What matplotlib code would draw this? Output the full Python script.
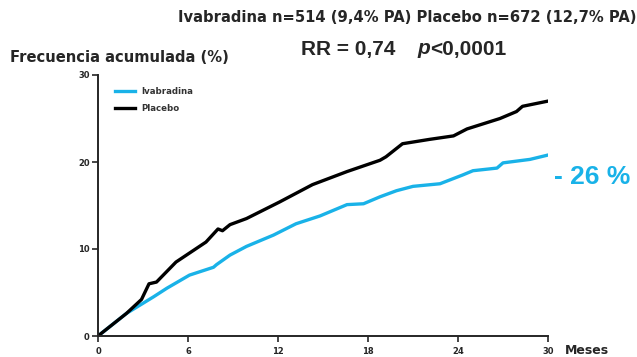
import numpy as np
import matplotlib.pyplot as plt

plt.rcParams['font.family'] = ['DejaVu Sans']

# curves (months, cumulative %)
meses_placebo = [0, 1.9, 2.9, 3.4, 3.9, 5.2, 7.2, 8.0, 8.3, 8.8, 9.9, 12.1, 14.3,
                 16.6, 18.8, 19.2, 20.3, 22.1, 23.7, 24.6, 26.8, 27.9, 28.3, 30]
placebo = [0, 2.6, 4.2, 6.0, 6.2, 8.5, 10.8, 12.3, 12.1, 12.8, 13.5, 15.4, 17.4,
           18.9, 20.2, 20.6, 22.1, 22.6, 23.0, 23.8, 25.0, 25.8, 26.4, 27.0]
meses_ivab = [0, 1.9, 3.7, 4.6, 6.1, 7.7, 7.9, 8.8, 9.9, 11.7, 13.2, 14.8, 16.6,
              17.7, 18.8, 19.9, 21.0, 22.8, 24.3, 25.0, 26.6, 27.0, 28.8, 30]
ivabradina = [0, 2.6, 4.5, 5.5, 7.0, 7.9, 8.2, 9.3, 10.3, 11.6, 12.9, 13.8, 15.1,
              15.2, 16.0, 16.7, 17.2, 17.5, 18.5, 19.0, 19.3, 19.9, 20.3, 20.8]
xticks = [0, 6, 12, 18, 24, 30]
yticks = [0, 10, 20, 30]

cyan = '#19b2e8'
dark = '#262626'
W, H = 637, 357

fig = plt.figure(figsize=(W / 100, H / 100), dpi=100)
ax = fig.add_axes([98 / W, 1 - 336 / H, 450 / W, 261 / H])

ax.plot(meses_ivab, ivabradina, color=cyan, lw=2.4, label='Ivabradina')
ax.plot(meses_placebo, placebo, color='black', lw=2.4, label='Placebo')

ax.set_xlim(0, 30)
ax.set_ylim(0, 30)
ax.set_xticks(xticks)
ax.set_yticks(yticks)
ax.tick_params(labelsize=6, length=4, width=1.2, colors=dark)
ax.tick_params(axis='x', pad=4)
ax.tick_params(axis='y', pad=2)
for lab in ax.get_xticklabels() + ax.get_yticklabels():
    lab.set_fontweight('bold')
ax.spines['top'].set_visible(False)
ax.spines['right'].set_visible(False)
for s in ['left', 'bottom']:
    ax.spines[s].set_linewidth(1.4)
    ax.spines[s].set_color(dark)

leg = ax.legend(loc='upper left', bbox_to_anchor=(0.02, 0.985), frameon=False,
                fontsize=6.2, handlelength=2.3, handletextpad=0.8, labelspacing=1.0)
for t in leg.get_texts():
    t.set_fontweight('bold')
    t.set_color('#333333')


def px(x, y):
    return x / W, 1 - y / H


arial = ['Liberation Sans', 'DejaVu Sans']
fig.text(*px(178, 18), 'Ivabradina n=514 (9,4% PA) Placebo n=672 (12,7% PA)',
         fontsize=10.6, fontweight='bold', va='center', ha='left', color=dark)
fig.text(*px(301, 49), 'RR = 0,74', fontsize=15, fontweight='bold', va='center', color=dark, family=arial)
fig.text(*px(417, 49), 'p', fontsize=15, fontweight='bold', style='italic', va='center', color=dark, family=arial)
fig.text(*px(430, 49), '<0,0001', fontsize=15, fontweight='bold', va='center', color=dark, family=arial)
fig.text(*px(10, 58), 'Frecuencia acumulada (%)', fontsize=10.6, fontweight='bold', va='center', color=dark)
fig.text(*px(565, 351), 'Meses', fontsize=9, fontweight='bold', va='center', color=dark)
fig.text(*px(554, 177), '- 26 %', fontsize=19, fontweight='bold', va='center', color=cyan,
         family=['Liberation Sans Narrow', 'Liberation Sans'])

fig.savefig('out.png', dpi=100)
